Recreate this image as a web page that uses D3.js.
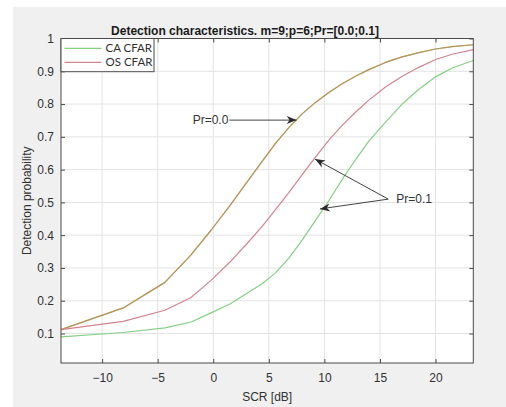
<!DOCTYPE html>
<html>
<head>
<meta charset="utf-8">
<script src="https://cdn.jsdelivr.net/npm/d3@7"></script>
<style>
  html, body { margin: 0; padding: 0; background: #ffffff; }
  svg { display: block; }
</style>
</head>
<body>
<svg id="chart" width="506" height="407"></svg>
<script>
// ---- data ----
const scr = [-13.7, -8.1, -4.35, -2.0, -0.2, 1.5, 3.0, 4.4, 5.6, 6.8, 8.0, 9.2, 10.4, 11.6, 12.8, 14.0, 15.5, 17.0, 18.5, 20.0, 21.5, 23.4];
const pdPr00   = [0.112, 0.178, 0.256, 0.340, 0.415, 0.490, 0.560, 0.625, 0.680, 0.728, 0.770, 0.805, 0.835, 0.862, 0.885, 0.905, 0.927, 0.944, 0.957, 0.968, 0.975, 0.981];
const pdOS01   = [0.112, 0.137, 0.171, 0.210, 0.262, 0.318, 0.373, 0.427, 0.478, 0.530, 0.585, 0.638, 0.690, 0.735, 0.775, 0.812, 0.852, 0.885, 0.912, 0.936, 0.952, 0.966];
const pdCA01   = [0.090, 0.103, 0.117, 0.135, 0.163, 0.190, 0.222, 0.252, 0.285, 0.330, 0.385, 0.445, 0.505, 0.570, 0.630, 0.687, 0.745, 0.800, 0.845, 0.883, 0.910, 0.933];
const legendNames = ["CA CFAR", "OS CFAR"];
const xTicks = [-10, -5, 0, 5, 10, 15, 20];
const yTicks = [0.1, 0.2, 0.3, 0.4, 0.5, 0.6, 0.7, 0.8, 0.9, 1];
const titleText = "Detection characteristics. m=9;p=6;Pr=[0.0;0.1]";
const xLabel = "SCR [dB]";
const yLabel = "Detection probability";
// annotations in data units: label, arrow origin, arrow tips
const annPr0 = { text: "Pr=0.0", x: 1.45, y: 0.751, tips: [[7.5, 0.751]] };
const annPr1 = { text: "Pr=0.1", x: 15.75, y: 0.51, tips: [[9.16, 0.632], [9.6, 0.48]] };

// ---- layout ----
const W = 506, H = 407;
const L = 61, R = 473.3, T = 38.5, B = 363;
const green = "#84d084", red = "#d4848f";

const svg = d3.select("#chart");
svg.append("rect").attr("x", 13).attr("y", 7).attr("width", W - 13).attr("height", H - 7).attr("fill", "#f0f0f0");

const x = d3.scaleLinear().domain([-13.7, 23.4]).range([L, R]);
const y = d3.scaleLinear().domain([0.01, 1]).range([B, T]);

svg.append("rect").attr("x", L).attr("y", T).attr("width", R - L).attr("height", B - T).attr("fill", "#ffffff");

// grid
const grid = svg.append("g");
grid.selectAll(".gx").data(xTicks).join("line")
  .attr("x1", d => x(d)).attr("x2", d => x(d)).attr("y1", T).attr("y2", B)
  .attr("stroke", "#e3e3e3").attr("stroke-width", 1);
grid.selectAll(".gy").data(yTicks).join("line")
  .attr("y1", d => y(d)).attr("y2", d => y(d)).attr("x1", L).attr("x2", R)
  .attr("stroke", "#e3e3e3").attr("stroke-width", 1);

// lines (Pr=0.0: CA and OS curves coincide, drawn on top of each other)
const line = d3.line().x(d => x(d[0])).y(d => y(d[1])).curve(d3.curveLinear);
const zip = arr => scr.map((s, i) => [s, arr[i]]);
const series = [
  { vals: pdPr00, color: green, op: 1 },
  { vals: pdPr00, color: "#d08050", op: 0.8 },
  { vals: pdCA01, color: green, op: 1 },
  { vals: pdOS01, color: red, op: 1 }
];
const plot = svg.append("g");
plot.selectAll("path").data(series).join("path")
  .attr("d", d => line(zip(d.vals)))
  .attr("fill", "none").attr("stroke", d => d.color).attr("stroke-opacity", d => d.op)
  .attr("stroke-width", 1.2).attr("stroke-linejoin", "round");

// axes (ticks inside, on all four sides)
const axisColor = "#4a4a4a";
const fontMain = "'Liberation Sans', Arial, sans-serif";
function styleAxis(g) {
  g.select(".domain").remove();
  g.selectAll(".tick line").attr("stroke", axisColor);
  g.selectAll(".tick text").attr("fill", "#303030").style("font-family", fontMain).style("font-size", "12px");
}
svg.append("g").attr("transform", `translate(0,${B})`)
  .call(d3.axisBottom(x).tickValues(xTicks).tickSize(-4).tickPadding(10).tickFormat(d3.format("d")))
  .call(styleAxis);
svg.append("g").attr("transform", `translate(0,${T})`)
  .call(d3.axisTop(x).tickValues(xTicks).tickSize(-4).tickFormat(""))
  .call(styleAxis);
svg.append("g").attr("transform", `translate(${L},0)`)
  .call(d3.axisLeft(y).tickValues(yTicks).tickSize(-4).tickPadding(7).tickFormat(d => d === 1 ? "1" : d3.format(".1f")(d)))
  .call(styleAxis);
svg.append("g").attr("transform", `translate(${R},0)`)
  .call(d3.axisRight(y).tickValues(yTicks).tickSize(-4).tickFormat(""))
  .call(styleAxis);

svg.append("rect").attr("x", L).attr("y", T).attr("width", R - L).attr("height", B - T)
  .attr("fill", "none").attr("stroke", axisColor).attr("stroke-width", 1);

// title and labels
svg.append("text").attr("x", 245).attr("y", 35).attr("text-anchor", "middle")
  .style("font-family", fontMain).style("font-size", "12px").style("font-weight", "bold")
  .attr("fill", "#1a1a1a").text(titleText);
svg.append("text").attr("x", (L + R) / 2).attr("y", 401).attr("text-anchor", "middle")
  .style("font-family", fontMain).style("font-size", "12px").attr("fill", "#303030").text(xLabel);
svg.append("text").attr("transform", `translate(31,${(T + B) / 2}) rotate(-90)`).attr("text-anchor", "middle")
  .style("font-family", fontMain).style("font-size", "12px").attr("fill", "#303030").text(yLabel);

// annotations
const defs = svg.append("defs");
defs.append("marker").attr("id", "ah").attr("viewBox", "-11 -5 12 10")
  .attr("refX", 0).attr("refY", 0).attr("markerWidth", 12).attr("markerHeight", 10)
  .attr("markerUnits", "userSpaceOnUse").attr("orient", "auto")
  .append("path").attr("d", "M0,0 L-10,-4 L-7,0 L-10,4 Z").attr("fill", "#2a2a2a");

const ann = svg.append("g");
[annPr0, annPr1].forEach((a, k) => {
  const lx = x(a.x), ly = y(a.y);
  ann.append("text").attr("x", k === 0 ? lx - 1 : lx + 8).attr("y", ly + 4)
    .attr("text-anchor", k === 0 ? "end" : "start")
    .style("font-family", fontMain).style("font-size", "12px").attr("fill", "#333").text(a.text);
  a.tips.forEach(tp => {
    ann.append("line").attr("x1", lx).attr("y1", ly).attr("x2", x(tp[0])).attr("y2", y(tp[1]))
      .attr("stroke", "#444").attr("stroke-width", 1).attr("marker-end", "url(#ah)");
  });
});

// legend
const lg = svg.append("g");
lg.append("rect").attr("x", L).attr("y", T).attr("width", 93).attr("height", 33.2)
  .attr("fill", "#ffffff").attr("stroke", axisColor).attr("stroke-width", 1);
legendNames.forEach((n, i) => {
  const yy = T + 9.8 + i * 14;
  lg.append("line").attr("x1", L + 3.5).attr("x2", L + 40.5).attr("y1", yy).attr("y2", yy)
    .attr("stroke", i === 0 ? green : red).attr("stroke-width", 1.2);
  lg.append("text").attr("x", L + 44.5).attr("y", yy + 4).style("font-family", "Lato, sans-serif")
    .style("font-size", "11.5px").attr("fill", "#303030").text(n);
});
</script>
</body>
</html>
